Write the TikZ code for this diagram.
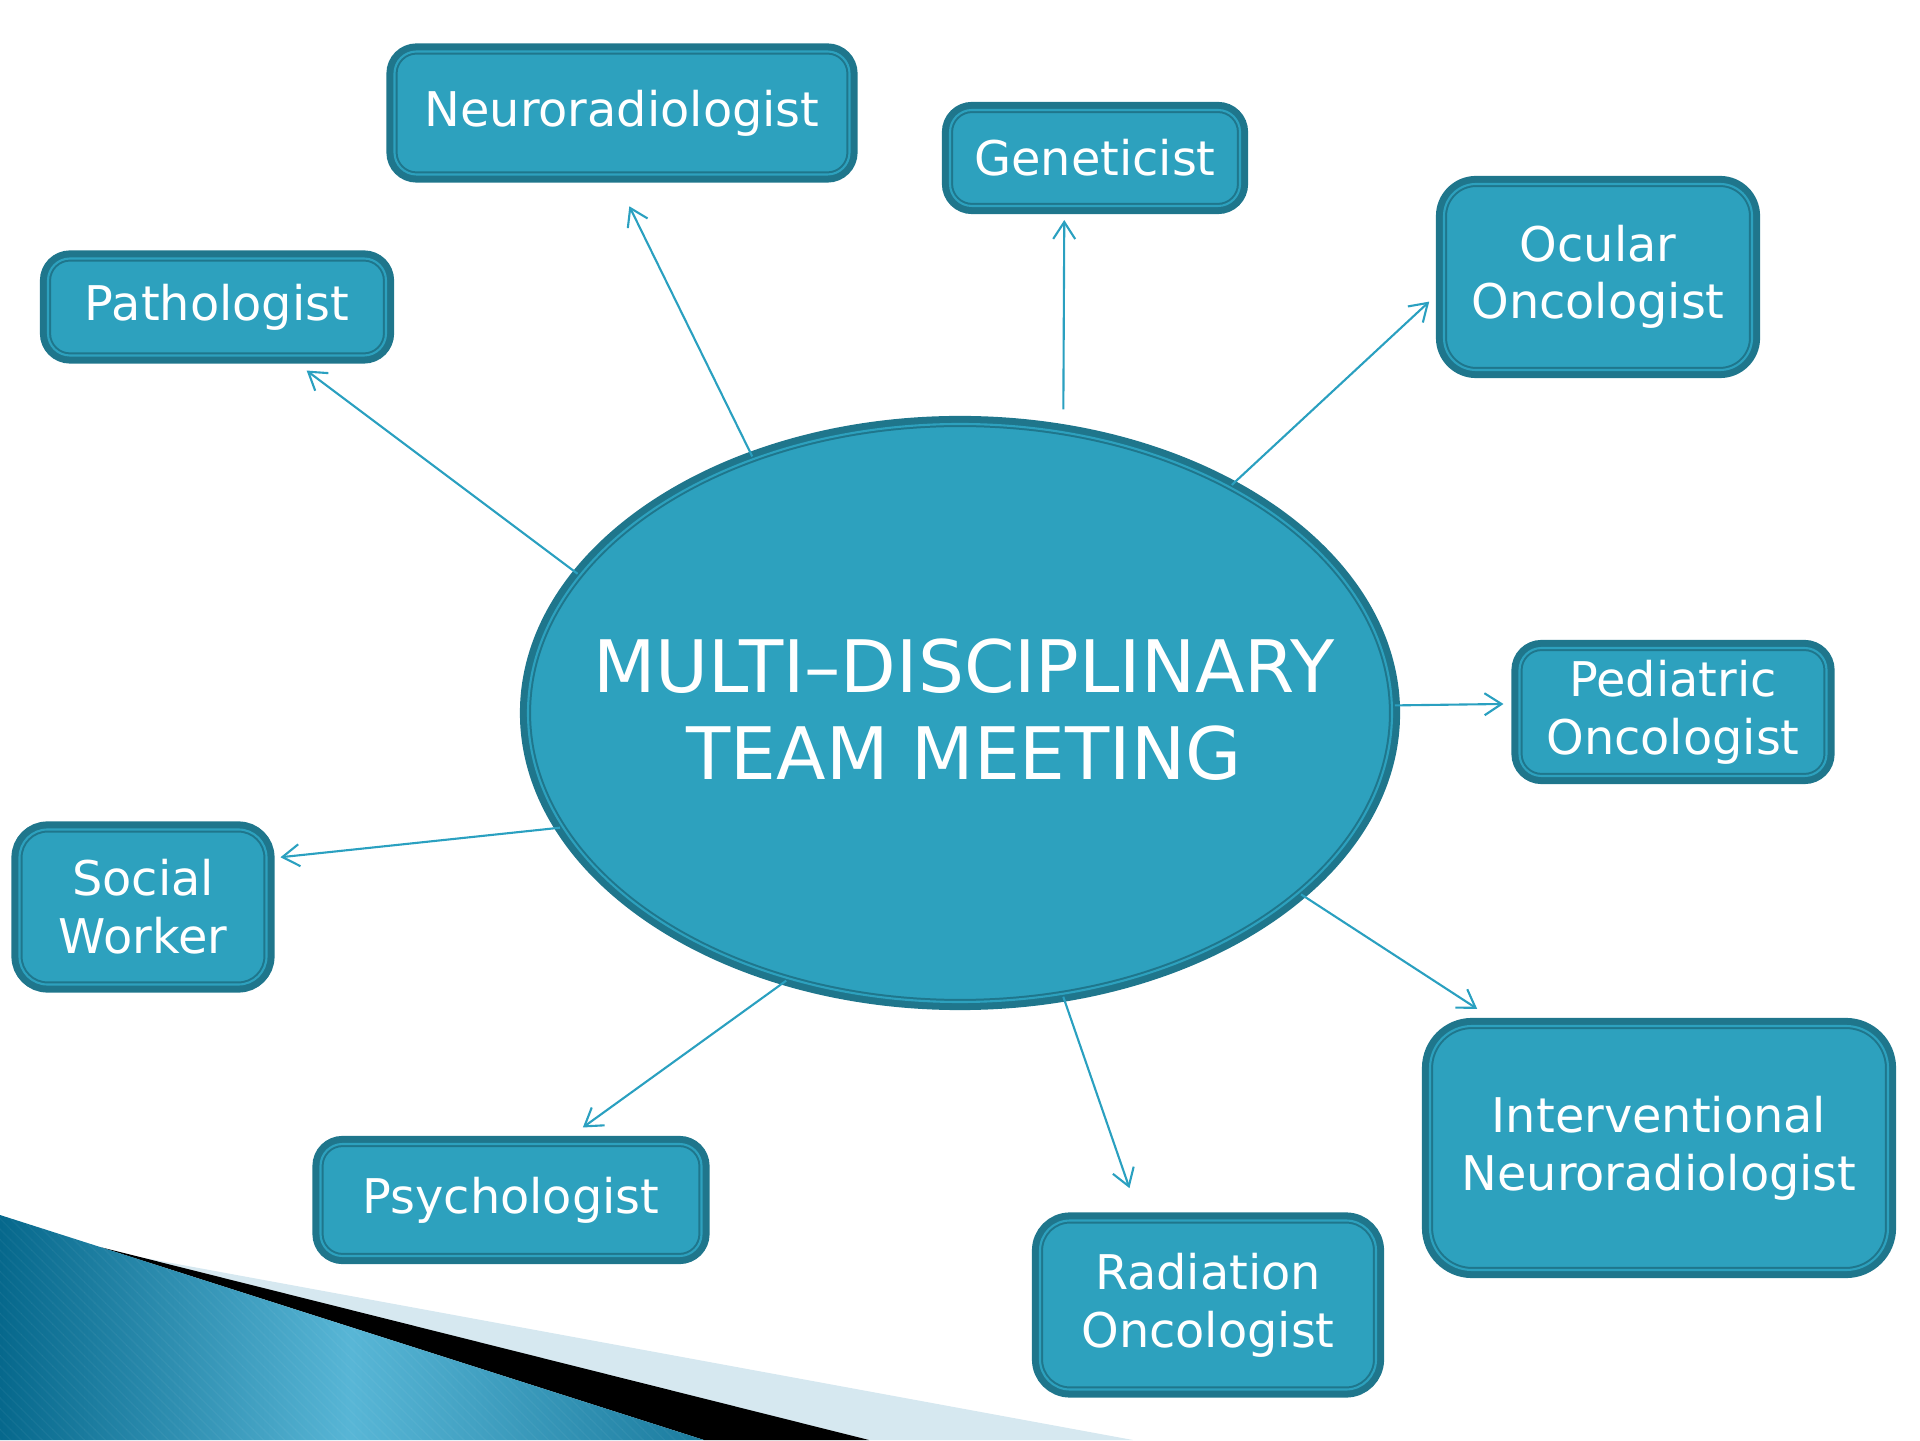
\documentclass[tikz,border=0pt]{standalone}
\usepackage{fontspec}
\setmainfont{DejaVu Sans}
\usetikzlibrary{shapes.geometric,arrows.meta,patterns}

\definecolor{teamfill}{RGB}{45,161,190}
\definecolor{teamedge}{RGB}{31,118,140}
\definecolor{teamarrow}{RGB}{42,160,192}
\definecolor{wedgedark}{RGB}{6,104,140}
\definecolor{wedgelight}{RGB}{88,182,214}
\definecolor{bandlight}{RGB}{214,232,240}

\tikzset{
	rim/.style={fill=teamfill, draw=teamedge, line width=1.74pt,
		preaction={draw=teamedge, line width=4.6pt},
		postaction={draw=teamfill, line width=0.6pt}},
	role/.style={rim, rectangle, rounded corners=0.22cm, text=white, align=center,
		inner sep=0pt, font=\fontsize{13.6}{16.4}\selectfont},
	link/.style={draw=teamarrow, line width=0.6pt,
		-{Straight Barb[length=1.7mm,width=2.2mm]}},
}

\begin{document}
\begin{tikzpicture}
		%%%%% START %%%%%
		\useasboundingbox (0, 0) rectangle (19.2, 14.4);
		
		% corner wedge
		\fill[bandlight] (0.9, 1.92) -- (11.33, 0) -- (8.69, 0) -- cycle;
		\fill[black] (1.0, 1.93) -- (8.69, 0) -- (7.04, 0) -- cycle;
		\shade[left color=wedgedark, right color=wedgedark!75!wedgelight, middle color=wedgelight]
			(0, 2.25) -- (7.04, 0) -- (0, 0) -- cycle;
		\fill[pattern=north west lines, pattern color=white, opacity=0.04]
			(0, 2.25) -- (7.04, 0) -- (0, 0) -- cycle;
		
		% meeting
		\node[rim, ellipse, minimum width=8.64cm, minimum height=5.78cm, inner sep=0pt]
			(mdt) at (9.60, 7.27) {};
		\node[text=white, align=center, font=\fontsize{20.6}{24.7}\selectfont]
			(mdttext) at (9.64, 7.30) {MULTI–DISCIPLINARY\\TEAM MEETING};
		
		% specialists
		\node[role, minimum width=3.38cm, minimum height=0.97cm] (path) at (2.17, 11.33) {Pathologist};
		\node[role, minimum width=4.55cm, minimum height=1.23cm] (neuro) at (6.22, 13.27) {Neuroradiologist};
		\node[role, minimum width=2.90cm, minimum height=0.96cm] (gen) at (10.95, 12.82) {Geneticist};
		\node[role, rounded corners=0.32cm, minimum width=3.08cm, minimum height=1.86cm] (ocular) at (15.98, 11.63) {Ocular\\Oncologist};
		\node[role, minimum width=3.07cm, minimum height=1.28cm] (pedia) at (16.73, 7.28) {Pediatric\\Oncologist};
		\node[role, rounded corners=0.28cm, minimum width=2.47cm, minimum height=1.55cm] (social) at (1.43, 5.33) {Social\\Worker};
		\node[role, minimum width=3.81cm, minimum height=1.12cm] (psych) at (5.11, 2.40) {Psychologist};
		\node[role, rounded corners=0.3cm, minimum width=3.36cm, minimum height=1.69cm] (radio) at (12.08, 1.35) {Radiation\\Oncologist};
		\node[role, rounded corners=0.42cm, minimum width=4.58cm, minimum height=2.44cm] (interv) at (16.59, 2.92) {Interventional\\Neuroradiologist};
		
		% arrows out of the meeting
		\draw[link, shorten >=0.2cm] (mdt.160) -- (path.-35);
		\draw[link, shorten >=0.32cm] (mdt.129) -- (neuro.-96);
		\draw[link, shorten <=0.2cm, shorten >=0.11cm] (mdt.70.2) -- (gen.-121.3);
		\draw[link, shorten >=0.16cm] (mdt.40.8) -- (ocular.-175.8);
		\draw[link, shorten >=0.13cm] (mdt.1) -- (pedia.177.5);
		\draw[link, shorten >=0.26cm] (mdt.-28.6) -- (interv.142.4);
		\draw[link, shorten >=0.31cm] (mdt.-70.3) -- (radio.128.5);
		\draw[link, shorten >=0.23cm] (mdt.-123.1) -- (psych.48.3);
		\draw[link, shorten >=0.11cm] (mdt.-164.4) -- (social.21.3);
		
		%%%%% END %%%%%
	\end{tikzpicture}
\end{document}
